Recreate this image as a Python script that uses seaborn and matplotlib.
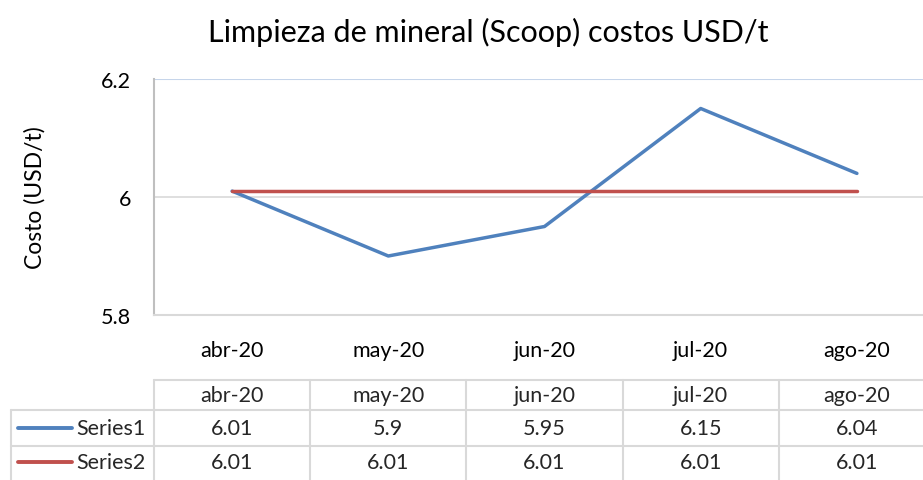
import matplotlib
matplotlib.use("Agg")
import matplotlib.pyplot as plt
import matplotlib.transforms as mtransforms
from matplotlib.lines import Line2D
import seaborn as sns
import pandas as pd

months = ["abr-20", "may-20", "jun-20", "jul-20", "ago-20"]
series1 = [6.01, 5.9, 5.95, 6.15, 6.04]
series2 = [6.01, 6.01, 6.01, 6.01, 6.01]
series_names = ["Series1", "Series2"]
y_ticks = [5.8, 6.0, 6.2]
y_tick_labels = ["5.8", "6", "6.2"]
title = "Limpieza de mineral (Scoop) costos USD/t"
ylabel = "Costo (USD/t)"

colors = {"Series1": "#4F81BD", "Series2": "#C0504D"}

sns.set_theme(style="white")
plt.rcParams["font.family"] = ["Lato", "DejaVu Sans"]

FS = 15.5
W, H = 923, 481
fig = plt.figure(figsize=(W / 100, H / 100), dpi=100)

left, right, top, bottom = 154, 935, 80, 316
ax = fig.add_axes([left / W, 1 - bottom / H, (right - left) / W, (bottom - top) / H])

df = pd.DataFrame({
    "pos": list(range(len(months))) * 2,
    "value": series1 + series2,
    "series": [series_names[0]] * len(months) + [series_names[1]] * len(months),
})
sns.lineplot(data=df, x="pos", y="value", hue="series", palette=colors,
             linewidth=2.5, ax=ax, legend=False, sort=False, zorder=3)

ax.set_xlim(-0.5, len(months) - 0.5)
ax.set_ylim(5.8, 6.2)
ax.set_yticks(y_ticks)
ax.set_yticklabels(y_tick_labels, fontsize=FS, color="#000000")
ax.set_xticks(range(len(months)))
ax.set_xticklabels(months, fontsize=FS, color="#000000")
ax.tick_params(axis="y", length=0, pad=16.5)
ax.tick_params(axis="x", length=0, pad=18)
ax.set_xlabel("")
ax.set_ylabel(ylabel, fontsize=16.5, color="#000000")
ax.yaxis.set_label_coords((46 - left) / (right - left), 0.5)
for s in ["top", "right"]:
    ax.spines[s].set_visible(False)
ax.spines["left"].set_color("#BFBFBF")
ax.spines["left"].set_linewidth(1.5)
ax.spines["bottom"].set_color("#D9D9D9")
ax.spines["bottom"].set_linewidth(1.5)
ax.axhline(6.2, color="#C6D5EA", linewidth=1.5, zorder=1)
ax.axhline(6.0, color="#D9D9D9", linewidth=1.2, zorder=1)

fig.text(488 / W, 1 - 32 / H, title, ha="center", va="center", fontsize=22, color="#000000")

# data table below the chart
trans = mtransforms.blended_transform_factory(ax.transData, fig.transFigure)
def fy(py):
    return 1 - py / H

grid_c = "#D9D9D9"
n = len(months)
fig.add_artist(Line2D([-0.5, n - 0.5], [fy(381), fy(381)], transform=trans, color=grid_c, lw=1.5, clip_on=False))
for py in [411, 447]:
    fig.add_artist(Line2D([11 / W, 1.0], [fy(py), fy(py)], transform=fig.transFigure, color=grid_c, lw=1.5))
for i in range(n + 1):
    fig.add_artist(Line2D([i - 0.5, i - 0.5], [fy(381), fy(490)], transform=trans, color=grid_c, lw=1.5, clip_on=False))
fig.add_artist(Line2D([11 / W, 11 / W], [fy(411), fy(490)], transform=fig.transFigure, color=grid_c, lw=1.5))

for i, m in enumerate(months):
    fig.text(i, fy(396), m, transform=trans, ha="center", va="center", fontsize=FS)
rows = [series1, series2]
row_y = [429, 463]
for r, (name, vals) in enumerate(zip(series_names, rows)):
    for i, v in enumerate(vals):
        fig.text(i, fy(row_y[r]), f"{v:g}", transform=trans, ha="center", va="center", fontsize=FS)
    fig.add_artist(Line2D([18 / W, 72 / W], [fy(row_y[r]), fy(row_y[r])], transform=fig.transFigure,
                          color=colors[name], lw=2.8, solid_capstyle="round"))
    fig.text(76 / W, fy(row_y[r]), name, ha="left", va="center", fontsize=FS)

fig.savefig("out.png", dpi=100, facecolor="white")
